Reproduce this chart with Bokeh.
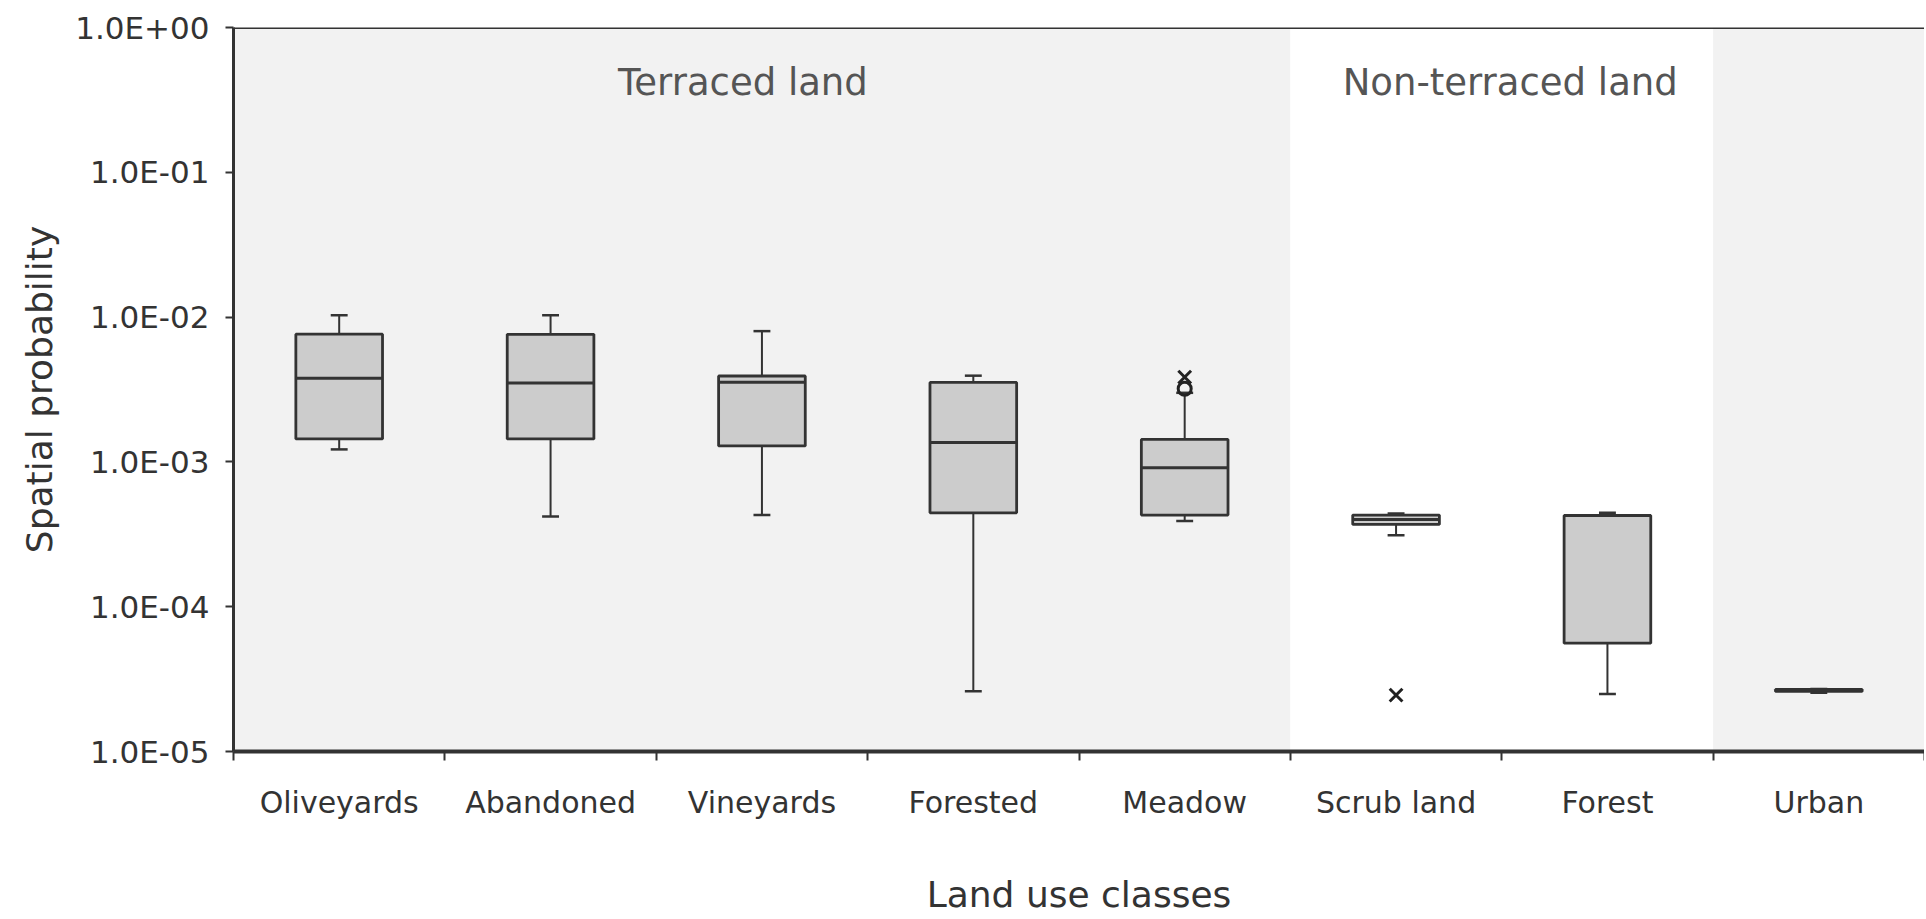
from bokeh.plotting import figure
from bokeh.models import FixedTicker, BoxAnnotation, Label, Span, Range1d
from bokeh.embed import file_html
from bokeh.resources import INLINE

# ---------------- data ----------------
categories = ["Oliveyards", "Abandoned", "Vineyards", "Forested", "Meadow",
              "Scrub land", "Forest", "Urban"]
groups = ["Terraced land"] * 5 + ["Non-terraced land"] * 2 + [""]
whisker_low = [1.22e-3, 4.2e-4, 4.3e-4, 2.61e-5, 3.9e-4, 3.12e-4, 2.5e-5, 2.55e-5]
q1 = [1.44e-3, 1.44e-3, 1.29e-3, 4.45e-4, 4.29e-4, 3.7e-4, 5.6e-5, 2.6e-5]
median = [3.78e-3, 3.5e-3, 3.55e-3, 1.36e-3, 9.1e-4, 4.0e-4, 4.27e-4, 2.65e-5]
q3 = [7.62e-3, 7.6e-3, 3.92e-3, 3.54e-3, 1.43e-3, 4.29e-4, 4.27e-4, 2.68e-5]
whisker_high = [1.03e-2, 1.03e-2, 8.0e-3, 3.94e-3, 3.0e-3, 4.4e-4, 4.45e-4, 2.7e-5]
outlier_cat = ["Meadow", "Meadow", "Scrub land"]
outlier_val = [3.85e-3, 3.2e-3, 2.45e-5]
outlier_marker = ["x", "circle", "x"]
y_ticks = [1e-5, 1e-4, 1e-3, 1e-2, 1e-1, 1.0]
y_tick_labels = ["1.0E-05", "1.0E-04", "1.0E-03", "1.0E-02", "1.0E-01", "1.0E+00"]

FONT = "DejaVu Sans"
DARK = "#333333"
BOX_W = 0.41
CAP_W = 0.08
MARKER_SIZE = {"x": 18, "circle": 13}

n = len(categories)
xs = [i + 0.5 for i in range(n)]

p = figure(width=1924, height=917, output_backend="svg", toolbar_location=None,
           y_axis_type="log", x_range=Range1d(0, n), y_range=Range1d(1e-5, 1.0),
           min_border_left=233, min_border_right=0, min_border_top=27,
           min_border_bottom=159)
p.outline_line_color = None
p.grid.visible = False
p.background_fill_color = "white"
p.border_fill_color = "white"

# shaded group regions
runs = []
start = 0
for i in range(1, n + 1):
    if i == n or groups[i] != groups[start]:
        runs.append((start, i, groups[start]))
        start = i
label_shift = [-0.09, 0.04, 0.0]
for k, (a, b, g) in enumerate(runs):
    color = "#f2f2f2" if k % 2 == 0 else "white"
    p.add_layout(BoxAnnotation(left=a, right=b, fill_color=color, fill_alpha=1.0,
                               line_color=None, level="underlay"))
    if g:
        p.add_layout(Label(x=(a + b) / 2 + label_shift[k], y=0.42, text=g,
                           text_font=FONT, text_font_size="37px",
                           text_color="#555555", text_align="center",
                           text_baseline="alphabetic"))

# whiskers
p.segment(x0=xs, x1=xs, y0=q3, y1=whisker_high, line_color=DARK, line_width=2)
p.segment(x0=xs, x1=xs, y0=q1, y1=whisker_low, line_color=DARK, line_width=2)
p.segment(x0=[x - CAP_W / 2 for x in xs], x1=[x + CAP_W / 2 for x in xs],
          y0=whisker_high, y1=whisker_high, line_color=DARK, line_width=2.5)
p.segment(x0=[x - CAP_W / 2 for x in xs], x1=[x + CAP_W / 2 for x in xs],
          y0=whisker_low, y1=whisker_low, line_color=DARK, line_width=2.5)

# boxes
p.vbar(x=xs, width=BOX_W, bottom=q1, top=q3, fill_color="#cccccc",
       line_color=DARK, line_width=2.8)
p.segment(x0=[x - BOX_W / 2 for x in xs], x1=[x + BOX_W / 2 for x in xs],
          y0=median, y1=median, line_color=DARK, line_width=3)

# outliers
ox = [xs[categories.index(c)] for c in outlier_cat]
p.scatter(x=ox, y=outlier_val, marker=outlier_marker,
          size=[MARKER_SIZE[m] for m in outlier_marker],
          line_color="#222222", fill_color=None, line_width=3)

# top border and faint right border
p.add_layout(Span(location=1.0, dimension="width", line_color=DARK, line_width=3))
p.add_layout(Span(location=n, dimension="height", line_color="#dddddd", line_width=1))

# x axis
xa = p.xaxis[0]
xa.ticker = FixedTicker(ticks=xs, minor_ticks=list(range(n + 1)))
xa.major_label_overrides = {x: c for x, c in zip(xs, categories)}
xa.major_tick_line_color = None
xa.minor_tick_line_color = DARK
xa.minor_tick_line_width = 2
xa.minor_tick_out = 9
xa.minor_tick_in = 0
xa.axis_line_color = DARK
xa.axis_line_width = 4
xa.major_label_text_font = FONT
xa.major_label_text_font_size = "30px"
xa.major_label_text_color = "#333333"
xa.major_label_standoff = 24
xa.axis_label = "Land use classes"
xa.axis_label_text_font = FONT
xa.axis_label_text_font_size = "36px"
xa.axis_label_text_font_style = "normal"
xa.axis_label_text_color = "#333333"
xa.axis_label_standoff = 51

# y axis
ya = p.yaxis[0]
ya.ticker = FixedTicker(ticks=y_ticks, minor_ticks=[])
ya.major_label_overrides = {t: l for t, l in zip(y_ticks, y_tick_labels)}
ya.major_tick_line_color = DARK
ya.major_tick_line_width = 2
ya.major_tick_out = 8
ya.major_tick_in = 0
ya.axis_line_color = DARK
ya.axis_line_width = 3
ya.major_label_text_font = FONT
ya.major_label_text_font_size = "31px"
ya.major_label_text_color = "#333333"
ya.major_label_standoff = 16
ya.axis_label = "Spatial probability"
ya.axis_label_text_font = FONT
ya.axis_label_text_font_size = "36px"
ya.axis_label_text_font_style = "normal"
ya.axis_label_text_color = "#333333"
ya.axis_label_standoff = 12

open("out.html", "w").write(file_html(p, INLINE))
